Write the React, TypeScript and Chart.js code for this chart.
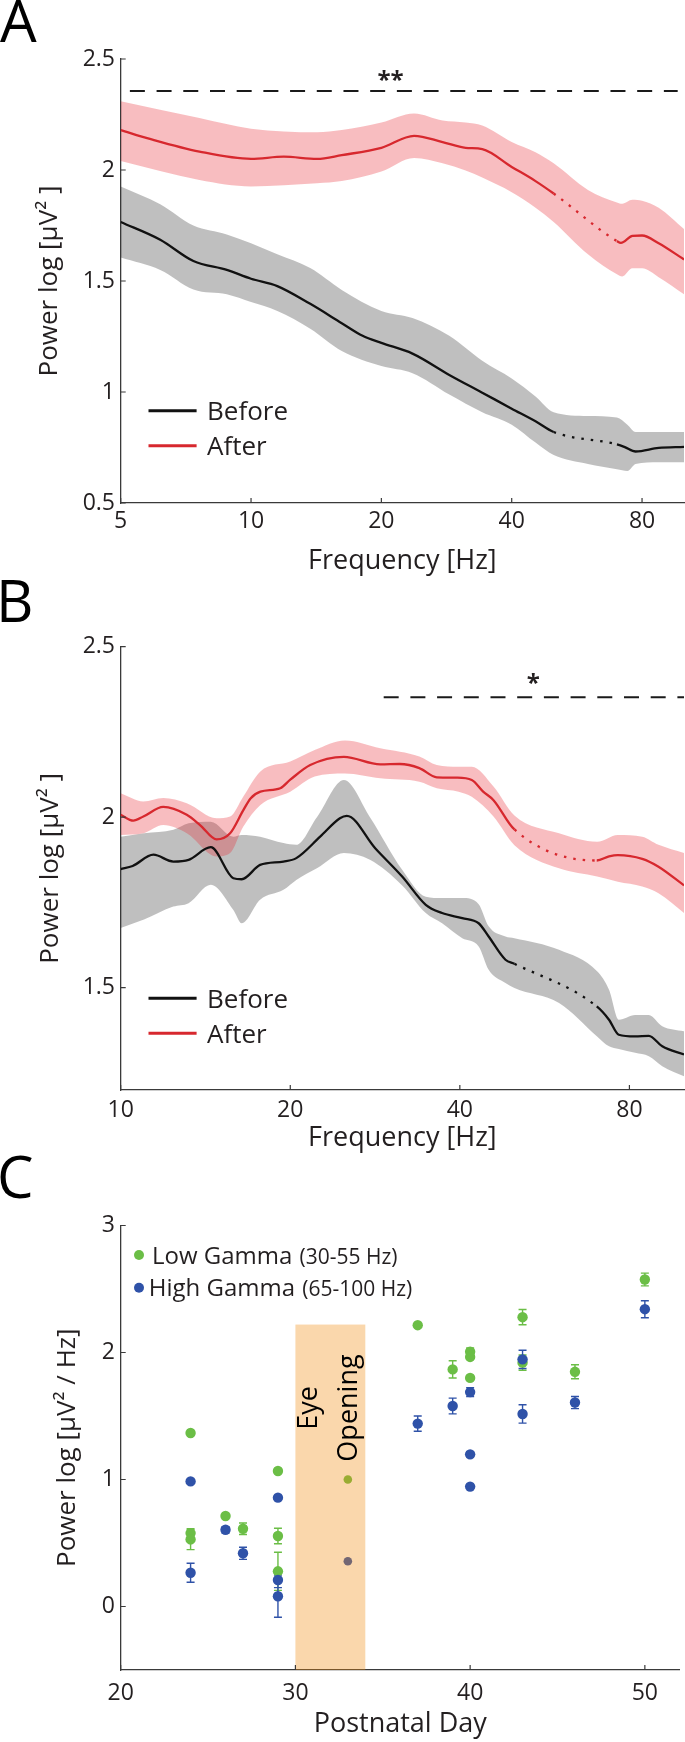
import React, { useEffect, useRef } from "react";
import { Chart, registerables } from "chart.js";

Chart.register(...registerables);

// ---------------- Panel A data (5–100 Hz) ----------------
const A_X_TICKS = [5, 10, 20, 40, 80];
const A_Y_TICKS = [0.5, 1, 1.5, 2, 2.5];

const A_AFTER_FREQ = [5, 5.84, 7.6, 10, 11.9, 14.2, 16.2, 20, 23.8, 27.7, 31.3, 34.2, 40, 45.4, 50, 70, 71.5, 76, 80, 87.4, 100];
const A_AFTER_MEAN = [2.18, 2.14, 2.083, 2.05, 2.06, 2.05, 2.067, 2.1, 2.154, 2.126, 2.1, 2.094, 2.014, 1.95, 1.894, 1.68, 1.672, 1.703, 1.705, 1.67, 1.597];
const A_AFTER_BAND_FREQ = [5, 7.6, 10, 14.2, 16.2, 20, 23.8, 27.7, 31.3, 34.2, 40, 45.4, 50, 60, 70, 72, 76, 80, 87.4, 100];
const A_AFTER_UPPER = [2.31, 2.234, 2.186, 2.17, 2.18, 2.214, 2.255, 2.223, 2.214, 2.2, 2.126, 2.08, 2.03, 1.91, 1.854, 1.848, 1.866, 1.862, 1.83, 1.734];
const A_AFTER_LOWER = [2.04, 1.955, 1.926, 1.94, 1.95, 1.993, 2.054, 2.03, 1.998, 1.966, 1.9, 1.83, 1.766, 1.62, 1.53, 1.52, 1.557, 1.557, 1.517, 1.44];

const A_BEFORE_FREQ = [5, 6.17, 7.36, 8.79, 10, 11.5, 13.7, 16.2, 18.1, 20, 23.6, 28.7, 34.2, 40, 45.4, 50, 70, 73, 77.3, 87.4, 100];
const A_BEFORE_MEAN = [1.766, 1.686, 1.59, 1.55, 1.51, 1.477, 1.397, 1.31, 1.253, 1.221, 1.173, 1.077, 0.997, 0.925, 0.868, 0.82, 0.764, 0.752, 0.732, 0.748, 0.753];
const A_BEFORE_BAND_FREQ = [5, 6.17, 7.36, 8.79, 10, 11.5, 13.7, 16.2, 20, 23.6, 28.7, 34.2, 40, 45.4, 50, 60, 70, 74, 77.3, 87.4, 100];
const A_BEFORE_UPPER = [1.926, 1.846, 1.75, 1.71, 1.67, 1.62, 1.558, 1.46, 1.365, 1.333, 1.253, 1.141, 1.061, 0.98, 0.909, 0.892, 0.885, 0.853, 0.82, 0.82, 0.82];
const A_BEFORE_LOWER = [1.606, 1.55, 1.462, 1.44, 1.405, 1.365, 1.285, 1.185, 1.117, 1.085, 0.989, 0.909, 0.853, 0.772, 0.716, 0.676, 0.652, 0.644, 0.676, 0.684, 0.684];

const A_SIG_FREQ = [5.25, 96.7];
const A_SIG_LEVEL = 2.356;
const A_SIG_TEXT = "**";
const A_SIG_TEXT_AT = [21, 2.43];

// ---------------- Panel B data (10–100 Hz) ----------------
const B_X_TICKS = [10, 20, 40, 80];
const B_Y_TICKS = [1.5, 2, 2.5];

const B_AFTER_FREQ = [10, 10.53, 10.97, 11.9, 13.1, 13.83, 14.8, 15.64, 16.5, 17.0, 17.7, 19.2, 20, 21.7, 24.9, 28.9, 31.3, 33.9, 36.4, 39.5, 42, 44, 45.9, 50, 70, 73.6, 76.3, 84.3, 90.1, 100];
const B_AFTER_MEAN = [2.007, 1.99, 2.002, 2.03, 2.007, 1.977, 1.935, 1.953, 2.02, 2.055, 2.075, 2.085, 2.11, 2.153, 2.177, 2.155, 2.156, 2.144, 2.117, 2.116, 2.109, 2.075, 2.05, 1.964, 1.873, 1.885, 1.889, 1.878, 1.855, 1.8];
const B_AFTER_BAND_FREQ = [10, 10.97, 11.9, 13.1, 14.8, 15.64, 16.5, 17.7, 20, 22.1, 25, 28.9, 33.9, 36.4, 39.8, 42, 45.9, 50, 60, 70.1, 76.3, 84.3, 90.1, 100];
const B_AFTER_UPPER = [2.07, 2.046, 2.056, 2.041, 1.997, 2.002, 2.06, 2.134, 2.163, 2.197, 2.225, 2.202, 2.178, 2.153, 2.148, 2.148, 2.09, 2.005, 1.953, 1.928, 1.948, 1.943, 1.919, 1.895];
const B_AFTER_LOWER = [1.948, 1.953, 1.977, 1.953, 1.885, 1.895, 1.972, 2.036, 2.075, 2.119, 2.128, 2.114, 2.104, 2.085, 2.075, 2.06, 2.002, 1.918, 1.85, 1.826, 1.811, 1.797, 1.777, 1.719];

const B_BEFORE_FREQ = [10, 10.5, 11.43, 12.4, 13.2, 14.45, 15.85, 16.4, 17.68, 19.45, 20.5, 22.6, 24.5, 25.2, 28.3, 31.6, 34.8, 37.2, 40.4, 43.2, 45, 48.2, 50, 70, 73.6, 76.6, 81.9, 86.6, 91.5, 100];
const B_BEFORE_MEAN = [1.848, 1.857, 1.89, 1.87, 1.875, 1.912, 1.821, 1.818, 1.86, 1.87, 1.88, 1.943, 1.997, 2.004, 1.909, 1.826, 1.743, 1.719, 1.704, 1.689, 1.65, 1.582, 1.57, 1.445, 1.406, 1.362, 1.357, 1.359, 1.328, 1.304];
const B_BEFORE_BAND_FREQ = [10, 11, 12.4, 13.2, 14.45, 15.85, 16.4, 17.68, 19.45, 20.5, 22.3, 24.9, 27.7, 31.6, 34.8, 37.2, 40.4, 43.2, 45, 48.2, 50, 60, 70.1, 73.6, 76.6, 81.9, 86.6, 91.5, 100];
const B_BEFORE_UPPER = [1.943, 1.953, 1.963, 1.982, 1.987, 1.943, 1.948, 1.943, 1.924, 1.919, 2.0, 2.109, 2.0, 1.846, 1.767, 1.763, 1.763, 1.745, 1.68, 1.65, 1.645, 1.611, 1.548, 1.494, 1.406, 1.42, 1.42, 1.387, 1.372];
const B_BEFORE_LOWER = [1.675, 1.7, 1.738, 1.748, 1.802, 1.728, 1.689, 1.758, 1.787, 1.816, 1.85, 1.895, 1.875, 1.8, 1.719, 1.689, 1.645, 1.621, 1.553, 1.514, 1.499, 1.455, 1.357, 1.328, 1.32, 1.309, 1.299, 1.27, 1.24];

const B_SIG_FREQ = [29.3, 100];
const B_SIG_LEVEL = 2.352;
const B_SIG_TEXT = "*";
const B_SIG_TEXT_AT = [54, 2.41];

// line-noise gap drawn dotted (Hz)
const DOTTED_RANGE = [50, 70];
const LEGEND_LABELS = ["Before", "After"];

// ---------------- Panel C data ----------------
const C_X_TICKS = [20, 30, 40, 50];
const C_Y_TICKS = [0, 1, 2, 3];

const LOW_DAYS = [24, 24, 24, 26, 27, 29, 29, 29, 33, 37, 39, 40, 40, 40, 43, 43, 46, 50];
const LOW_VALS = [1.366, 0.578, 0.528, 0.713, 0.612, 1.067, 0.555, 0.277, 1.0, 2.215, 1.867, 2.006, 1.965, 1.8, 2.278, 1.92, 1.848, 2.575];
const LOW_ERR = [0, 0.035, 0.08, 0, 0.045, 0, 0.061, 0.15, 0, 0, 0.068, 0.03, 0, 0, 0.06, 0.06, 0.055, 0.05];

const HIGH_DAYS = [24, 24, 26, 27, 29, 29, 29, 33, 37, 39, 40, 40, 40, 43, 43, 46, 50];
const HIGH_VALS = [0.985, 0.266, 0.604, 0.419, 0.857, 0.209, 0.081, 0.356, 1.44, 1.579, 1.688, 1.198, 0.944, 1.946, 1.516, 1.606, 2.341];
const HIGH_ERR = [0, 0.075, 0.025, 0.048, 0, 0.06, 0.166, 0, 0.06, 0.062, 0.034, 0.02, 0, 0.072, 0.072, 0.048, 0.067];

const EYE_DAYS = [30, 34];
const EYE_TOP = 2.22;
const C_LEGEND = [
  ["Low Gamma", "(30-55 Hz)"],
  ["High Gamma", "(65-100 Hz)"],
];

// ---------------- styles ----------------
const FONT = "'Open Sans', sans-serif";
const INK = "#231F20";
const AXIS = "#3A3A3A";
const RED = "#D7282E";
const RED_BAND = "rgba(232, 36, 46, 0.3)";
const GRAY_BAND = "rgba(0, 0, 0, 0.25)";
const BLACK = "#111111";
const GREEN = "#6BBE46";
const BLUE = "#2F52A8";
const EYE_FILL = "rgba(241, 141, 18, 0.35)";
const Y_AXIS_W = 120.7;

const pts = (xs: number[], ys: number[]) => xs.map((x, i) => ({ x, y: ys[i] }));

const dottedSeg = (ctx: any) =>
  ctx.p0.parsed.x >= DOTTED_RANGE[0] - 1e-6 && ctx.p1.parsed.x <= DOTTED_RANGE[1] + 1e-6 ? [2.5, 7] : undefined;

const inwardTicks = {
  id: "inwardTicks",
  afterDraw(chart: any) {
    const { ctx, chartArea } = chart;
    const xs = chart.scales.x;
    const ys = chart.scales.y;
    ctx.save();
    ctx.strokeStyle = AXIS;
    ctx.lineWidth = 1.2;
    ctx.beginPath();
    xs.ticks.forEach((t: any) => {
      const px = xs.getPixelForValue(t.value);
      ctx.moveTo(px, chartArea.bottom);
      ctx.lineTo(px, chartArea.bottom - 5);
    });
    ys.ticks.forEach((t: any) => {
      const py = ys.getPixelForValue(t.value);
      ctx.moveTo(chartArea.left, py);
      ctx.lineTo(chartArea.left + 5, py);
    });
    ctx.stroke();
    ctx.restore();
  },
};

function drawLetter(ctx: any, letter: string, x: number, y: number) {
  ctx.save();
  ctx.fillStyle = "#000";
  ctx.font = `58px ${FONT}`;
  ctx.textAlign = "left";
  ctx.textBaseline = "alphabetic";
  ctx.fillText(letter, x, y);
  ctx.restore();
}

function tickAxis(opts: any) {
  return {
    type: opts.type,
    min: opts.min,
    max: opts.max,
    afterBuildTicks: (s: any) => {
      s.ticks = opts.ticks.map((v: number) => ({ value: v }));
    },
    afterFit: opts.afterFit,
    grid: { display: false, drawTicks: false },
    border: { display: true, color: AXIS, width: 1.3 },
    ticks: {
      autoSkip: false,
      maxRotation: 0,
      padding: opts.tickPad,
      color: INK,
      font: { size: 23, family: FONT },
      callback: (v: any) => String(v),
    },
    title: {
      display: true,
      text: opts.title,
      color: INK,
      font: { size: opts.titleSize, family: FONT },
      padding: opts.titlePad,
    },
  };
}

function spectrumConfig(p: any) {
  const decor = {
    id: "spectrumDecor",
    afterDraw(chart: any) {
      const { ctx } = chart;
      const xs = chart.scales.x;
      const ys = chart.scales.y;
      drawLetter(ctx, p.letter, p.letterX, p.letterY);
      // significance marker text
      ctx.save();
      ctx.fillStyle = INK;
      ctx.font = `bold 24px ${FONT}`;
      ctx.textAlign = "center";
      ctx.textBaseline = "alphabetic";
      ctx.fillText(p.sigText, xs.getPixelForValue(p.sigTextAt[0]), ys.getPixelForValue(p.sigTextAt[1]) + 0.57 * 24);
      // legend
      const colors = [BLACK, RED];
      LEGEND_LABELS.forEach((lab, i) => {
        const y = p.legendY[i];
        ctx.strokeStyle = colors[i];
        ctx.lineWidth = 3;
        ctx.beginPath();
        ctx.moveTo(148.5, y);
        ctx.lineTo(196.6, y);
        ctx.stroke();
        ctx.fillStyle = INK;
        ctx.font = `26px ${FONT}`;
        ctx.textAlign = "left";
        ctx.fillText(lab, 207, y + 0.357 * 26);
      });
      ctx.restore();
    },
  };
  const line = { pointRadius: 0, cubicInterpolationMode: "monotone" };
  return {
    type: "line",
    data: {
      datasets: [
        { ...line, label: "bu", data: pts(p.before.bandFreq, p.before.upper), borderColor: "rgba(0,0,0,0)", borderWidth: 0, fill: false, order: 10 },
        { ...line, label: "bl", data: pts(p.before.bandFreq, p.before.lower), borderColor: "rgba(0,0,0,0)", borderWidth: 0, fill: "-1", backgroundColor: GRAY_BAND, order: 10 },
        { ...line, label: "au", data: pts(p.after.bandFreq, p.after.upper), borderColor: "rgba(0,0,0,0)", borderWidth: 0, fill: false, order: 9 },
        { ...line, label: "al", data: pts(p.after.bandFreq, p.after.lower), borderColor: "rgba(0,0,0,0)", borderWidth: 0, fill: "-1", backgroundColor: RED_BAND, order: 9 },
        { ...line, label: "Before", data: pts(p.before.freq, p.before.mean), borderColor: BLACK, borderWidth: 2.3, fill: false, order: 2, segment: { borderDash: dottedSeg } },
        { ...line, label: "After", data: pts(p.after.freq, p.after.mean), borderColor: RED, borderWidth: 2.3, fill: false, order: 1, segment: { borderDash: dottedSeg } },
        { label: "sig", data: pts(p.sigFreq, [p.sigLevel, p.sigLevel]), borderColor: "#1A1A1A", borderWidth: 2, borderDash: [15, 11.7], pointRadius: 0, fill: false, order: 0 },
      ],
    },
    options: {
      responsive: false,
      animation: false,
      devicePixelRatio: 1,
      events: [],
      layout: { padding: { top: p.padTop, right: 1, bottom: 0, left: 0 } },
      plugins: { legend: { display: false }, tooltip: { enabled: false } },
      scales: {
        x: tickAxis({
          type: "logarithmic",
          min: p.xMin,
          max: 100,
          ticks: p.xTicks,
          afterFit: (s: any) => {
            s.height = p.xAxisH;
          },
          tickPad: p.xTickPad,
          title: "Frequency [Hz]",
          titleSize: 27,
          titlePad: { top: 0, bottom: p.xTitlePad },
        }),
        y: tickAxis({
          type: "linear",
          min: p.yMin,
          max: 2.5,
          ticks: p.yTicks,
          afterFit: (s: any) => {
            s.width = Y_AXIS_W;
          },
          tickPad: 5.7,
          title: "Power log [µV² ]",
          titleSize: 26,
          titlePad: { top: p.yTitlePad, bottom: 0 },
        }),
      },
    },
    plugins: [inwardTicks, decor],
  };
}

function scatterConfig() {
  const errBars = {
    id: "errBars",
    beforeDatasetsDraw(chart: any) {
      const { ctx } = chart;
      const xs = chart.scales.x;
      const ys = chart.scales.y;
      const draw = (days: number[], vals: number[], errs: number[], color: string) => {
        ctx.save();
        ctx.strokeStyle = color;
        ctx.lineWidth = 1.4;
        ctx.beginPath();
        days.forEach((d, i) => {
          if (!errs[i]) return;
          const x = xs.getPixelForValue(d);
          const yt = ys.getPixelForValue(vals[i] + errs[i]);
          const yb = ys.getPixelForValue(vals[i] - errs[i]);
          ctx.moveTo(x, yt);
          ctx.lineTo(x, yb);
          ctx.moveTo(x - 4, yt);
          ctx.lineTo(x + 4, yt);
          ctx.moveTo(x - 4, yb);
          ctx.lineTo(x + 4, yb);
        });
        ctx.stroke();
        ctx.restore();
      };
      draw(LOW_DAYS, LOW_VALS, LOW_ERR, GREEN);
      draw(HIGH_DAYS, HIGH_VALS, HIGH_ERR, BLUE);
    },
    afterDatasetsDraw(chart: any) {
      const { ctx, chartArea } = chart;
      const xs = chart.scales.x;
      const ys = chart.scales.y;
      const x0 = xs.getPixelForValue(EYE_DAYS[0]);
      const x1 = xs.getPixelForValue(EYE_DAYS[1]);
      const yt = ys.getPixelForValue(EYE_TOP);
      ctx.save();
      ctx.fillStyle = EYE_FILL;
      ctx.fillRect(x0, yt, x1 - x0, chartArea.bottom - yt);
      ctx.fillStyle = "#000";
      ctx.font = `27px ${FONT}`;
      ctx.textAlign = "center";
      ctx.textBaseline = "alphabetic";
      const cy = 268;
      [["Eye", 21.5], ["Opening", 61.5]].forEach(([t, dx]: any) => {
        ctx.save();
        ctx.translate(x0 + dx, cy);
        ctx.rotate(-Math.PI / 2);
        ctx.fillText(t, 0, 0);
        ctx.restore();
      });
      ctx.restore();
    },
    afterDraw(chart: any) {
      const { ctx } = chart;
      drawLetter(ctx, "C", -3, 58);
      const colors = [GREEN, BLUE];
      const ys = [115, 147.7];
      const tx = [152, 148.7];
      ctx.save();
      C_LEGEND.forEach(([main, sub], i) => {
        ctx.fillStyle = colors[i];
        ctx.beginPath();
        ctx.arc(139, ys[i], 5, 0, Math.PI * 2);
        ctx.fill();
        ctx.fillStyle = INK;
        ctx.textAlign = "left";
        ctx.textBaseline = "alphabetic";
        ctx.font = `24px ${FONT}`;
        ctx.fillText(main + " ", tx[i], ys[i] + 8.6);
        const w = ctx.measureText(main + " ").width;
        ctx.font = `21px ${FONT}`;
        ctx.fillText(sub, tx[i] + w + 1, ys[i] + 8.6);
      });
      ctx.restore();
    },
  };
  const radius = (ctx: any) => (ctx.raw && ctx.raw.x === 33 ? 4.3 : 5.2);
  return {
    type: "scatter",
    data: {
      datasets: [
        { label: "High Gamma (65-100 Hz)", data: pts(HIGH_DAYS, HIGH_VALS), backgroundColor: BLUE, borderWidth: 0, pointRadius: radius, order: 0 },
        { label: "Low Gamma (30-55 Hz)", data: pts(LOW_DAYS, LOW_VALS), backgroundColor: GREEN, borderWidth: 0, pointRadius: radius, order: 1 },
      ],
    },
    options: {
      responsive: false,
      animation: false,
      devicePixelRatio: 1,
      events: [],
      layout: { padding: { top: 85.5, right: 1.3, bottom: 0, left: 0 } },
      plugins: { legend: { display: false }, tooltip: { enabled: false } },
      scales: {
        x: tickAxis({
          type: "linear",
          min: 20,
          max: 52,
          ticks: C_X_TICKS,
          afterFit: (s: any) => {
            s.height = 72;
          },
          tickPad: 9.2,
          title: "Postnatal Day",
          titleSize: 27,
          titlePad: { top: 0, bottom: 1.8 },
        }),
        y: tickAxis({
          type: "linear",
          min: -0.5,
          max: 3,
          ticks: C_Y_TICKS,
          afterFit: (s: any) => {
            s.width = Y_AXIS_W;
          },
          tickPad: 5.7,
          title: "Power log [µV² / Hz]",
          titleSize: 26,
          titlePad: { top: 51.9, bottom: 0 },
        }),
      },
    },
    plugins: [inwardTicks, errBars],
  };
}

export default function App() {
  const refA = useRef<HTMLCanvasElement>(null);
  const refB = useRef<HTMLCanvasElement>(null);
  const refC = useRef<HTMLCanvasElement>(null);

  useEffect(() => {
    Chart.defaults.font.family = FONT;
    Chart.defaults.color = INK;
    const a = new Chart(refA.current as any, spectrumConfig({
      letter: "A", letterX: 0, letterY: 42,
      xMin: 5, xTicks: A_X_TICKS, yMin: 0.5, yTicks: A_Y_TICKS,
      before: { freq: A_BEFORE_FREQ, mean: A_BEFORE_MEAN, bandFreq: A_BEFORE_BAND_FREQ, upper: A_BEFORE_UPPER, lower: A_BEFORE_LOWER },
      after: { freq: A_AFTER_FREQ, mean: A_AFTER_MEAN, bandFreq: A_AFTER_BAND_FREQ, upper: A_AFTER_UPPER, lower: A_AFTER_LOWER },
      sigFreq: A_SIG_FREQ, sigLevel: A_SIG_LEVEL, sigText: A_SIG_TEXT, sigTextAt: A_SIG_TEXT_AT,
      padTop: 59, xAxisH: 77, xTickPad: 4.2, xTitlePad: 2.8, yTitlePad: 34.4,
      legendY: [410.7, 445.7],
    }) as any);
    const b = new Chart(refB.current as any, spectrumConfig({
      letter: "B", letterX: -4, letterY: 42,
      xMin: 10, xTicks: B_X_TICKS, yMin: 1.2, yTicks: B_Y_TICKS,
      before: { freq: B_BEFORE_FREQ, mean: B_BEFORE_MEAN, bandFreq: B_BEFORE_BAND_FREQ, upper: B_BEFORE_UPPER, lower: B_BEFORE_LOWER },
      after: { freq: B_AFTER_FREQ, mean: B_AFTER_MEAN, bandFreq: B_AFTER_BAND_FREQ, upper: B_AFTER_UPPER, lower: B_AFTER_LOWER },
      sigFreq: B_SIG_FREQ, sigLevel: B_SIG_LEVEL, sigText: B_SIG_TEXT, sigTextAt: B_SIG_TEXT_AT,
      padTop: 66.7, xAxisH: 70, xTickPad: 6.7, xTitlePad: 5.8, yTitlePad: 35.2,
      legendY: [418.3, 453.3],
    }) as any);
    const c = new Chart(refC.current as any, scatterConfig() as any);
    return () => {
      a.destroy();
      b.destroy();
      c.destroy();
    };
  }, []);

  return (
    <div style={{ position: "absolute", left: 0, top: 0, width: 685, height: 1742, background: "#fff" }}>
      <canvas ref={refA} width={685} height={580} style={{ position: "absolute", left: 0, top: 0, width: 685, height: 580 }} />
      <canvas ref={refB} width={685} height={580} style={{ position: "absolute", left: 0, top: 580, width: 685, height: 580 }} />
      <canvas ref={refC} width={685} height={602} style={{ position: "absolute", left: 0, top: 1140, width: 685, height: 602 }} />
    </div>
  );
}
